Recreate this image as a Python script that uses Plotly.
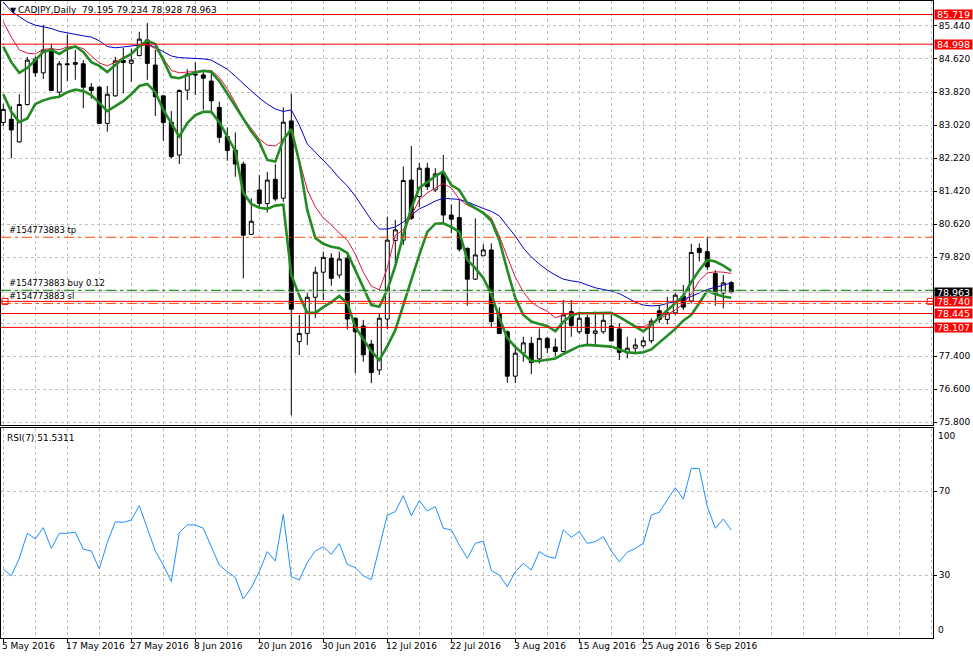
import plotly.graph_objects as go

# ---------------- data ----------------
date_labels = ["5 May 2016", "17 May 2016", "27 May 2016", "8 Jun 2016", "20 Jun 2016",
               "30 Jun 2016", "12 Jul 2016", "22 Jul 2016", "3 Aug 2016", "15 Aug 2016",
               "25 Aug 2016", "6 Sep 2016"]
date_label_bars = [0, 8, 16, 24, 32, 40, 48, 56, 64, 72, 80, 88]

opens = [83.09, 83.17, 82.62, 83.53, 84.63, 84.30, 84.88, 83.83, 84.52, 84.55,
         84.52, 83.95, 83.95, 83.07, 83.74, 84.60, 84.53, 84.72, 85.10, 84.49,
         83.74, 83.10, 82.30, 83.88, 84.27, 84.25, 84.10, 83.46, 82.75, 82.42,
         82.08, 80.37, 81.45, 81.12, 81.71, 81.25, 83.13, 77.76, 77.96, 78.84,
         79.45, 79.79, 79.38, 79.79, 78.33, 78.14, 77.70, 77.07, 78.31, 80.22,
         80.23, 81.69, 81.29, 81.98, 81.45, 81.86, 80.84, 80.78, 80.03, 79.28,
         79.85, 79.99, 78.45, 78.00, 76.92, 77.48, 77.72, 77.34, 77.84, 77.63,
         77.52, 78.49, 78.00, 78.34, 77.96, 78.00, 78.14, 78.07, 77.49, 77.60,
         77.66, 77.78, 78.51, 78.30, 78.46, 78.87, 78.75, 80.03, 79.95, 79.42,
         78.94, 79.195]
highs = [83.55, 83.49, 83.78, 84.69, 84.70, 85.46, 85.00, 84.59, 85.24, 84.86,
         84.61, 84.05, 83.98, 83.98, 84.69, 84.91, 84.89, 85.30, 85.51, 84.86,
         83.75, 83.37, 83.90, 84.39, 84.56, 84.37, 84.31, 83.60, 82.97, 82.85,
         82.14, 81.25, 81.81, 81.89, 82.08, 83.46, 83.79, 78.41, 78.94, 79.58,
         79.95, 79.91, 79.95, 79.91, 78.35, 78.29, 77.80, 78.45, 80.80, 80.72,
         82.02, 82.52, 82.11, 82.11, 81.98, 82.30, 81.10, 81.21, 80.05, 80.76,
         80.13, 80.15, 78.60, 78.03, 77.68, 77.88, 77.88, 78.08, 77.88, 77.84,
         78.77, 78.77, 78.49, 78.41, 78.49, 78.45, 78.41, 78.21, 77.88, 77.84,
         77.88, 78.33, 78.65, 78.85, 78.95, 79.14, 80.14, 80.15, 80.30, 79.50,
         79.38, 79.234]
lows = [83.00, 82.22, 82.60, 83.50, 84.20, 84.15, 83.86, 83.71, 84.10, 84.13,
        83.44, 83.67, 83.05, 82.87, 83.72, 83.80, 84.08, 84.70, 84.13, 83.25,
        82.65, 82.22, 82.08, 83.64, 83.76, 83.40, 83.35, 82.60, 82.16, 81.77,
        79.30, 80.36, 81.04, 80.90, 81.18, 81.16, 75.97, 77.43, 77.68, 78.33,
        78.77, 79.12, 79.30, 78.06, 76.99, 77.27, 76.75, 76.95, 78.06, 79.67,
        80.11, 80.72, 81.04, 81.45, 81.40, 80.64, 80.40, 79.95, 78.63, 79.26,
        79.84, 78.12, 77.94, 76.76, 76.75, 77.27, 76.97, 77.23, 77.48, 77.41,
        77.50, 77.88, 77.95, 77.68, 77.68, 77.95, 77.76, 77.31, 77.35, 77.49,
        77.60, 77.72, 78.21, 78.18, 78.40, 78.53, 78.69, 79.71, 79.50, 78.63,
        78.57, 78.928]
closes = [83.41, 82.91, 83.53, 84.61, 84.30, 84.86, 83.87, 84.52, 84.50, 84.51,
          83.95, 83.87, 83.07, 83.78, 84.59, 84.55, 84.61, 85.12, 84.53, 83.72,
          83.09, 82.26, 83.87, 84.27, 84.25, 84.17, 83.62, 82.73, 82.41, 82.08,
          80.35, 80.69, 81.12, 81.69, 81.23, 83.10, 78.55, 77.96, 78.84, 79.45,
          79.81, 79.30, 79.77, 78.31, 78.00, 77.44, 77.01, 78.33, 80.23, 80.48,
          81.68, 80.76, 81.98, 81.53, 81.84, 80.84, 80.74, 80.01, 79.28, 79.87,
          79.99, 78.25, 77.96, 76.92, 77.48, 77.73, 77.25, 77.84, 77.61, 77.52,
          78.41, 78.15, 78.33, 77.96, 78.02, 78.28, 77.78, 77.50, 77.60, 77.68,
          77.78, 78.26, 78.30, 78.46, 78.89, 78.60, 79.93, 79.93, 79.58, 78.92,
          79.19, 78.963]

ma_blue = [86.02, 85.80, 85.67, 85.54, 85.46, 85.42, 85.38, 85.31, 85.27, 85.23,
           85.20, 85.17, 85.08, 84.94, 84.91, 84.93, 84.95, 84.98, 85.00, 84.92,
           84.81, 84.71, 84.67, 84.66, 84.65, 84.64, 84.61, 84.51, 84.39, 84.22,
           84.03, 83.86, 83.69, 83.54, 83.42, 83.36, 83.40, 83.03, 82.57, 82.37,
           82.16, 81.97, 81.74, 81.55, 81.30, 81.01, 80.72, 80.50, 80.50, 80.55,
           80.67, 80.84, 80.99, 81.08, 81.18, 81.25, 81.24, 81.22, 81.16, 81.07,
           81.00, 80.93, 80.82, 80.57, 80.33, 80.04, 79.82, 79.65, 79.50, 79.38,
           79.28, 79.24, 79.21, 79.14, 79.07, 79.03, 78.99, 78.93, 78.82, 78.72,
           78.65, 78.63, 78.64, 78.69, 78.74, 78.79, 78.86, 78.94, 79.03, 79.08,
           79.14, 79.19]
ma_red = [85.54, 85.17, 84.86, 84.78, 84.76, 84.87, 84.89, 84.86, 84.93, 84.94,
          84.89, 84.72, 84.54, 84.47, 84.56, 84.68, 84.76, 84.95, 84.99, 84.89,
          84.66, 84.36, 84.30, 84.32, 84.33, 84.36, 84.36, 84.19, 83.91, 83.57,
          83.20, 82.95, 82.69, 82.54, 82.52, 82.67, 82.91, 82.18, 81.45, 81.04,
          80.77, 80.60, 80.40, 80.23, 79.89, 79.45, 79.11, 79.02, 79.55, 80.35,
          80.48, 80.82, 81.21, 81.38, 81.49, 81.61, 81.50, 81.23, 81.08, 80.99,
          80.91, 80.77, 80.33, 79.82, 79.33, 78.97, 78.72, 78.59, 78.50, 78.34,
          78.41, 78.45, 78.45, 78.45, 78.45, 78.45, 78.45, 78.36, 78.25, 78.14,
          78.12, 78.21, 78.31, 78.42, 78.53, 78.68, 78.92, 79.24, 79.43, 79.46,
          79.45, 79.42]
env_upper = [84.94, 84.56, 84.30, 84.42, 84.61, 84.81, 84.86, 84.76, 84.88, 84.94,
             84.81, 84.56, 84.47, 84.32, 84.49, 84.65, 84.76, 84.95, 85.08, 85.00,
             84.61, 84.20, 84.17, 84.24, 84.31, 84.35, 84.32, 84.10, 83.79, 83.49,
             83.20, 82.88, 82.62, 82.18, 82.14, 82.67, 82.93, 82.13, 80.96, 80.28,
             80.14, 80.07, 80.03, 79.92, 79.50, 79.07, 78.65, 78.61, 79.02, 79.60,
             80.36, 81.01, 81.50, 81.64, 81.79, 81.90, 81.57, 81.45, 81.13, 81.01,
             80.89, 80.70, 80.23, 79.50, 78.82, 78.41, 78.25, 78.19, 78.14, 78.01,
             78.24, 78.40, 78.45, 78.45, 78.45, 78.46, 78.46, 78.36, 78.25, 78.13,
             78.01, 78.17, 78.34, 78.51, 78.68, 78.87, 79.21, 79.50, 79.75, 79.71,
             79.61, 79.48]
env_lower = [83.78, 83.35, 83.10, 83.19, 83.54, 83.63, 83.69, 83.72, 83.83, 83.89,
             83.86, 83.76, 83.57, 83.37, 83.49, 83.61, 83.78, 83.98, 84.03, 83.83,
             83.40, 83.08, 82.75, 83.08, 83.27, 83.35, 83.35, 83.10, 82.74, 82.40,
             81.38, 81.11, 81.02, 80.99, 81.07, 81.09, 79.38, 78.88, 78.46, 78.46,
             78.60, 78.72, 78.87, 78.70, 78.12, 77.82, 77.53, 77.31, 77.65, 78.04,
             78.65, 79.31, 79.87, 80.43, 80.63, 80.64, 80.55, 80.43, 79.75, 79.55,
             79.31, 78.92, 78.34, 77.85, 77.63, 77.46, 77.29, 77.29, 77.32, 77.35,
             77.46, 77.56, 77.65, 77.68, 77.67, 77.65, 77.64, 77.57, 77.50, 77.48,
             77.50, 77.57, 77.73, 77.90, 78.07, 78.27, 78.41, 78.70, 79.00, 78.92,
             78.86, 78.83]
rsi = [32.8, 29.8, 38.1, 50.0, 47.3, 52.7, 42.8, 50.0, 50.0, 50.5,
       42.4, 41.6, 33.0, 45.7, 55.5, 55.2, 56.3, 63.2, 52.4, 41.6,
       34.9, 27.0, 50.3, 54.0, 54.0, 52.4, 43.6, 34.9, 31.7, 29.0,
       18.7, 24.1, 31.7, 41.3, 36.8, 59.0, 29.3, 27.8, 36.2, 41.6,
       43.6, 40.0, 45.1, 35.2, 33.6, 29.8, 27.9, 43.6, 58.7, 60.3,
       67.9, 58.4, 65.5, 60.6, 62.7, 52.4, 51.6, 44.4, 38.1, 45.2,
       46.3, 32.2, 30.1, 24.6, 31.7, 35.7, 32.5, 41.3, 38.9, 38.1,
       51.6, 48.1, 50.8, 45.2, 46.0, 48.4, 41.6, 36.5, 41.0, 42.8,
       45.2, 58.7, 60.0, 65.9, 71.7, 66.3, 80.9, 80.9, 62.7, 52.4,
       56.8, 51.53]

# grid values of the price scale; labels hidden behind price boxes are left blank
price_tick_vals = [85.440, 84.637, 83.833, 83.030, 82.227, 81.423, 80.620, 79.817,
                   79.013, 78.210, 77.407, 76.603, 75.800]
price_tick_text = ["85.440", "84.620", "83.820", "83.020", "82.220", "81.420", "80.620",
                   "79.820", "", "", "77.400", "76.600", "75.800"]
rsi_tick_vals = [70, 30]
rsi_levels_text = ["100", "0"]

red_levels = [85.719, 84.998, 78.740, 78.445, 78.107]
bid_price = 78.963
order_open = 79.01
order_sl = 78.69
order_tp = 80.30
symbol_title = "CADJPY,Daily  79.195 79.234 78.928 78.963"
rsi_title = "RSI(7) 51.5311"

# ---------------- figure ----------------
bars = list(range(len(opens)))
FONT = "DejaVu Sans"
GRID = "#C0C0C0"

fig = go.Figure()
fig.add_trace(go.Candlestick(
    x=bars, open=opens, high=highs, low=lows, close=closes,
    increasing=dict(fillcolor="white", line=dict(color="black", width=1)),
    decreasing=dict(fillcolor="black", line=dict(color="black", width=1)),
    whiskerwidth=0, xaxis="x", yaxis="y", showlegend=False))

fig.add_trace(go.Scatter(x=bars, y=ma_blue, mode="lines",
                         line=dict(color="#0000CD", width=1), xaxis="x", yaxis="y"))
fig.add_trace(go.Scatter(x=bars, y=ma_red, mode="lines",
                         line=dict(color="#DC143C", width=1), xaxis="x", yaxis="y"))
fig.add_trace(go.Scatter(x=bars, y=env_upper, mode="lines",
                         line=dict(color="#228B22", width=2.6), xaxis="x", yaxis="y"))
fig.add_trace(go.Scatter(x=bars, y=env_lower, mode="lines",
                         line=dict(color="#228B22", width=2.6), xaxis="x", yaxis="y"))

fig.add_trace(go.Scatter(x=bars, y=rsi, mode="lines",
                         line=dict(color="#1E90FF", width=1), xaxis="x2", yaxis="y2"))

x_min, x_max = -0.2875, 116.2125

# horizontal level lines
for lv in red_levels:
    fig.add_shape(type="line", xref="x domain", yref="y", x0=0, x1=1, y0=lv, y1=lv,
                  line=dict(color="#FF0000", width=1))
fig.add_shape(type="line", xref="x domain", yref="y", x0=0, x1=1, y0=bid_price, y1=bid_price,
              line=dict(color="#C0C0C0", width=1))
fig.add_shape(type="line", xref="x domain", yref="y", x0=0, x1=1, y0=order_open, y1=order_open,
              line=dict(color="#008000", width=1, dash="10px,4px,3px,4px"))
for lv in (order_sl, order_tp):
    fig.add_shape(type="line", xref="x domain", yref="y", x0=0, x1=1, y0=lv, y1=lv,
                  line=dict(color="#FF4500", width=1, dash="10px,4px,3px,4px"))

# small anchor squares at both ends of the 78.740 line
fig.add_trace(go.Scatter(x=[x_min + 0.5, x_max - 0.35], y=[red_levels[2], red_levels[2]],
                         mode="markers",
                         marker=dict(symbol="square", size=6, color="white",
                                     line=dict(color="#FF0000", width=1)),
                         xaxis="x", yaxis="y", cliponaxis=False))

annotations = []
# order labels
for txt, lv in (("#154773883 tp", order_tp), ("#154773883 buy 0.12", order_open),
                ("#154773883 sl", order_sl)):
    annotations.append(dict(text=txt, xref="paper", x=0, xanchor="left", xshift=6,
                            yref="y", y=lv, yanchor="bottom", yshift=0, showarrow=False,
                            font=dict(family=FONT, size=8.5, color="black")))
# price boxes
for lv in red_levels:
    annotations.append(dict(text=f"{lv:.3f}", xref="paper", x=1, xanchor="left", xshift=1,
                            yref="y", y=lv, yanchor="middle", showarrow=False,
                            bgcolor="#FF0000", borderpad=0, width=37, height=9,
                            font=dict(family=FONT, size=9.5, color="white")))
annotations.append(dict(text=f"{bid_price:.3f}", xref="paper", x=1, xanchor="left", xshift=1,
                        yref="y", y=bid_price, yanchor="middle", showarrow=False,
                        bgcolor="black", borderpad=0, width=37, height=8,
                        font=dict(family=FONT, size=9.5, color="white")))
# titles
annotations.append(dict(text="▼", xref="paper", x=0, xanchor="left", xshift=7,
                        yref="paper", y=1, yanchor="top", yshift=-3, showarrow=False,
                        font=dict(family=FONT, size=8, color="black")))
annotations.append(dict(text=symbol_title, xref="paper", x=0, xanchor="left", xshift=15,
                        yref="paper", y=1, yanchor="top", yshift=-2, showarrow=False,
                        font=dict(family=FONT, size=9, color="black")))
annotations.append(dict(text=rsi_title, xref="paper", x=0, xanchor="left", xshift=4,
                        yref="y2 domain", y=1, yanchor="top", yshift=-3, showarrow=False,
                        font=dict(family=FONT, size=9, color="black")))
# rsi 100 / 0 labels
annotations.append(dict(text=rsi_levels_text[0], xref="paper", x=1, xanchor="left", xshift=3,
                        yref="y2 domain", y=1, yanchor="top", yshift=-1, showarrow=False,
                        font=dict(family=FONT, size=9, color="black")))
annotations.append(dict(text=rsi_levels_text[1], xref="paper", x=1, xanchor="left", xshift=3,
                        yref="y2 domain", y=0, yanchor="bottom", yshift=1, showarrow=False,
                        font=dict(family=FONT, size=9, color="black")))
# date labels
for b, t in zip(date_label_bars, date_labels):
    annotations.append(dict(text=t, xref="x2", x=b, xanchor="left", xshift=-3,
                            yref="paper", y=0, yanchor="top", yshift=-1, showarrow=False,
                            font=dict(family=FONT, size=9, color="black")))

grid_bars = list(range(0, 117, 4))
axis_common = dict(showline=True, mirror=True, linecolor="black", linewidth=1,
                   zeroline=False)
grid_style = dict(showgrid=True, gridcolor=GRID, griddash="3px,3px", gridwidth=1)

fig.update_layout(
    width=973, height=659,
    margin=dict(l=1, r=40, t=1, b=21),
    paper_bgcolor="white", plot_bgcolor="white",
    showlegend=False,
    boxgap=0.3,
    font=dict(family=FONT, size=9, color="black"),
    xaxis=dict(domain=[0, 1], range=[x_min, x_max], anchor="y",
               tickvals=grid_bars, showticklabels=False, ticks="",
               rangeslider=dict(visible=False), **grid_style, **axis_common),
    yaxis=dict(domain=[0.33438, 1], range=[75.732, 86.048], anchor="x", side="right",
               tickvals=price_tick_vals, ticktext=price_tick_text,
               ticks="outside", ticklen=3, tickcolor="black",
               tickfont=dict(family=FONT, size=9), **grid_style, **axis_common),
    xaxis2=dict(domain=[0, 1], range=[x_min, x_max], anchor="y2", matches="x",
                tickvals=date_label_bars, showticklabels=False,
                ticks="outside", ticklen=3, tickcolor="black",
                minor=dict(tickvals=grid_bars, showgrid=True, gridcolor=GRID,
                           griddash="3px,3px", ticks=""),
                **grid_style, **axis_common),
    yaxis2=dict(domain=[0, 0.32967], range=[0.14, 100.14], anchor="x2", side="right",
                tickvals=rsi_tick_vals, ticktext=[str(v) for v in rsi_tick_vals],
                ticks="outside", ticklen=3, tickcolor="black",
                tickfont=dict(family=FONT, size=9), **grid_style, **axis_common),
    annotations=annotations,
)

fig.write_html("out.html")
